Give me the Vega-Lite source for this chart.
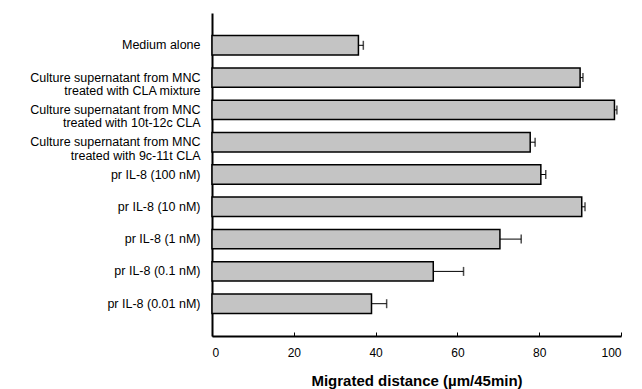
{
  "$schema": "https://vega.github.io/schema/vega-lite/v6.json",
  "autosize": "none",
  "width": 409,
  "height": 323,
  "padding": {"left": 212, "top": 13, "right": 21, "bottom": 53},
  "background": "white",
  "config": {"view": {"stroke": null}, "font": "Liberation Sans"},
  "data": {"values": [
    {"label": "Medium alone", "value": 35.8, "err": 37.0},
    {"label": "Culture supernatant from MNC\ntreated with CLA mixture", "value": 90.0, "err": 90.7},
    {"label": "Culture supernatant from MNC\ntreated with 10t-12c CLA", "value": 98.4, "err": 99.0},
    {"label": "Culture supernatant from MNC\ntreated with 9c-11t CLA", "value": 77.8, "err": 79.0},
    {"label": "pr IL-8 (100 nM)", "value": 80.4, "err": 81.6},
    {"label": "pr IL-8 (10 nM)", "value": 90.4, "err": 91.2},
    {"label": "pr IL-8 (1 nM)", "value": 70.4, "err": 75.6},
    {"label": "pr IL-8 (0.1 nM)", "value": 54.1, "err": 61.5},
    {"label": "pr IL-8 (0.01 nM)", "value": 39.0, "err": 42.7}
  ]},
  "encoding": {
    "y": {
      "field": "label", "type": "nominal", "sort": null,
      "scale": {"paddingInner": 0.4, "paddingOuter": 0.7},
      "axis": {
        "title": null, "ticks": false, "labelPadding": 12,
        "labelExpr": "split(datum.label, '\\n')",
        "labelFontSize": 12.5, "labelLineHeight": 13.5, "labelColor": "black",
        "labelFont": "Liberation Sans",
        "domainColor": "black", "domainWidth": 2
      }
    }
  },
  "layer": [
    {
      "mark": {"type": "bar", "fill": "#c4c4c4", "stroke": "black", "strokeWidth": 1.5},
      "encoding": {
        "x": {
          "field": "value", "type": "quantitative",
          "scale": {"domain": [0, 100], "nice": false},
          "axis": {
            "title": "Migrated distance (µm/45min)",
            "values": [0, 20, 40, 60, 80, 100],
            "grid": false, "tickSize": -4, "tickColor": "black", "tickWidth": 1,
            "domainColor": "black", "domainWidth": 2,
            "labelFontSize": 12, "labelColor": "black", "labelPadding": 15,
            "labelFont": "Liberation Sans",
            "titleFontSize": 15, "titleFontWeight": "bold", "titleColor": "black",
            "titleFont": "Liberation Sans", "titlePadding": 15
          }
        }
      }
    },
    {
      "mark": {"type": "rule", "color": "black", "strokeWidth": 1},
      "encoding": {
        "x": {"field": "value", "type": "quantitative"},
        "x2": {"field": "err"}
      }
    },
    {
      "mark": {"type": "tick", "color": "black", "thickness": 1.5, "size": 9, "orient": "vertical"},
      "encoding": {
        "x": {"field": "err", "type": "quantitative"}
      }
    }
  ]
}
